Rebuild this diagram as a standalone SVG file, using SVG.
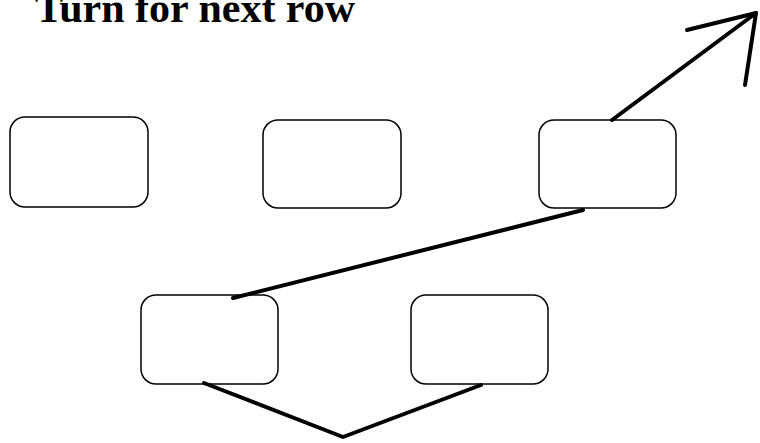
<svg xmlns="http://www.w3.org/2000/svg" width="760" height="443" viewBox="0 0 760 443">
<style>
.box{fill:#fff;stroke:#000;stroke-width:1.5}
.con{fill:none;stroke:#000;stroke-width:4;stroke-linecap:round;stroke-linejoin:round}
.title{font-family:"Liberation Serif",serif;font-weight:bold;font-size:42px;fill:#000}
</style>
<rect width="760" height="443" fill="#fff"/>
<text class="title" x="35" y="22">Turn for next row</text>
<g id="node1"><rect class="box" x="10" y="117" width="138" height="90" rx="15"/></g>
<g id="node2"><rect class="box" x="263" y="120" width="138" height="88" rx="15"/></g>
<g id="node3"><rect class="box" x="539" y="120" width="137" height="88" rx="15"/></g>
<g id="node4"><rect class="box" x="141" y="295" width="137" height="89" rx="15"/></g>
<g id="node5"><rect class="box" x="411" y="295" width="137" height="89" rx="15"/></g>
<g id="connectors">
<path class="con" d="M204,383 L343,437 L481,385"/>
<path class="con" d="M233,298 L583,210"/>
<path class="con" d="M612,120 L756,13"/>
<path class="con" d="M687,30 L756,13 L745,85"/>
</g>
</svg>
